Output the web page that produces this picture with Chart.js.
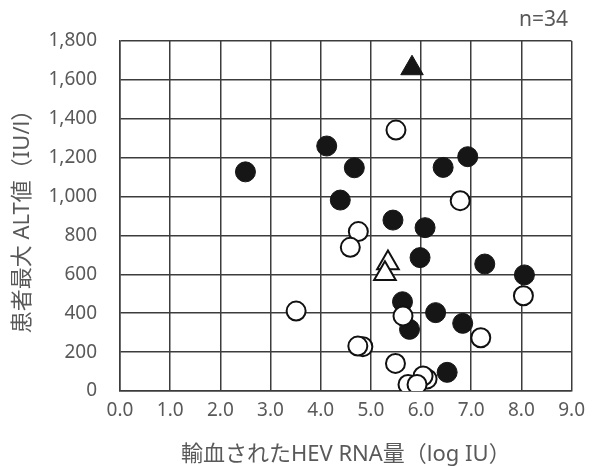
<!DOCTYPE html>
<html><head><meta charset="utf-8">
<script src="https://cdn.jsdelivr.net/npm/chart.js@4"></script>
<style>html,body{margin:0;padding:0;background:#fff}#wrap{width:593px;height:466px}</style>
</head><body><div id="wrap"><canvas id="c" width="593" height="466"></canvas></div>
<script>
const xTicks = [0,1,2,3,4,5,6,7,8,9];
const yTicks = [0,200,400,600,800,1000,1200,1400,1600,1800];
const filledCircles = [
  {x:2.50,y:1127},{x:4.12,y:1260},{x:4.67,y:1148},{x:4.39,y:982},{x:5.44,y:879},
  {x:6.44,y:1150},{x:6.93,y:1205},{x:6.08,y:840},{x:5.98,y:686},{x:7.27,y:653},
  {x:8.06,y:597},{x:5.63,y:459},{x:5.77,y:317},{x:6.29,y:403},{x:6.83,y:348},{x:6.52,y:96}
];
const openCircles = [
  {x:5.50,y:1342},{x:6.78,y:979},{x:4.75,y:820},{x:4.59,y:739},{x:8.04,y:490},
  {x:5.64,y:386},{x:7.19,y:274},{x:4.84,y:228},{x:4.74,y:231},{x:5.49,y:142},
  {x:3.51,y:411},{x:6.12,y:62},{x:6.04,y:77},{x:5.74,y:34},{x:5.92,y:34}
];
const filledTriangles = [{x:5.82,y:1660}];
const openTriangles = [{x:5.34,y:658},{x:5.28,y:603}];
const nLabel = 'n=34';
const xTitle = '輸血されたHEV RNA量（log IU）';
const yTitle = '患者最大 ALT値（IU/l）';

const FONT = "'Noto Sans','Noto Sans CJK JP',sans-serif";
const GRAY = '#595959';
const LINE = '#3c3c3c';

const nPlugin = {
  id:'nlabel',
  afterDraw(chart){
    const ctx = chart.ctx;
    ctx.save();
    ctx.font = "21px " + FONT;
    ctx.fillStyle = GRAY;
    ctx.textAlign = 'right';
    ctx.textBaseline = 'middle';
    ctx.fillText(nLabel, 568, 20);
    ctx.restore();
  }
};

new Chart(document.getElementById('c'), {
  type:'scatter',
  data:{datasets:[
    {data:openCircles, pointStyle:'circle', pointRadius:9.5, pointBackgroundColor:'#fff', pointBorderColor:'#111', pointBorderWidth:2, order:0},
    {data:filledCircles, pointStyle:'circle', pointRadius:10, pointBackgroundColor:'#161616', pointBorderColor:'#161616', pointBorderWidth:1, order:1},
    {data:openTriangles, pointStyle:'triangle', pointRadius:12.5, pointBackgroundColor:'#fff', pointBorderColor:'#111', pointBorderWidth:2, order:0},
    {data:filledTriangles, pointStyle:'triangle', pointRadius:13, pointBackgroundColor:'#161616', pointBorderColor:'#161616', pointBorderWidth:1, order:0}
  ]},
  options:{
    responsive:false, animation:false,
    layout:{padding:{left:0,right:13,top:41,bottom:0}},
    plugins:{legend:{display:false}, tooltip:{enabled:false}},
    scales:{
      x:{type:'linear', min:0, max:9,
        afterBuildTicks(s){ s.ticks = xTicks.map(v=>({value:v})); },
        afterFit(s){ s.height = 75; },
        ticks:{color:GRAY, font:{family:FONT,size:19}, padding:8, callback:v=>v.toFixed(1), maxRotation:0},
        grid:{color:LINE, lineWidth:1.5, drawTicks:false},
        border:{color:LINE, width:1.5},
        title:{display:true, text:xTitle, color:GRAY, font:{family:FONT,size:22,lineHeight:1}, padding:{top:4,bottom:0}}
      },
      y:{type:'linear', min:0, max:1800,
        afterBuildTicks(s){ s.ticks = yTicks.map(v=>({value:v})); },
        afterFit(s){ s.width = 120; },
        ticks:{color:GRAY, font:{family:FONT,size:19}, padding:23, callback:v=>v.toLocaleString('en-US')},
        grid:{color:LINE, lineWidth:1.5, drawTicks:false},
        border:{color:LINE, width:1.5},
        title:{display:true, text:yTitle, color:GRAY, font:{family:FONT,size:22}, padding:{top:10,bottom:4}}
      }
    }
  },
  plugins:[nPlugin]
});
</script></body></html>
